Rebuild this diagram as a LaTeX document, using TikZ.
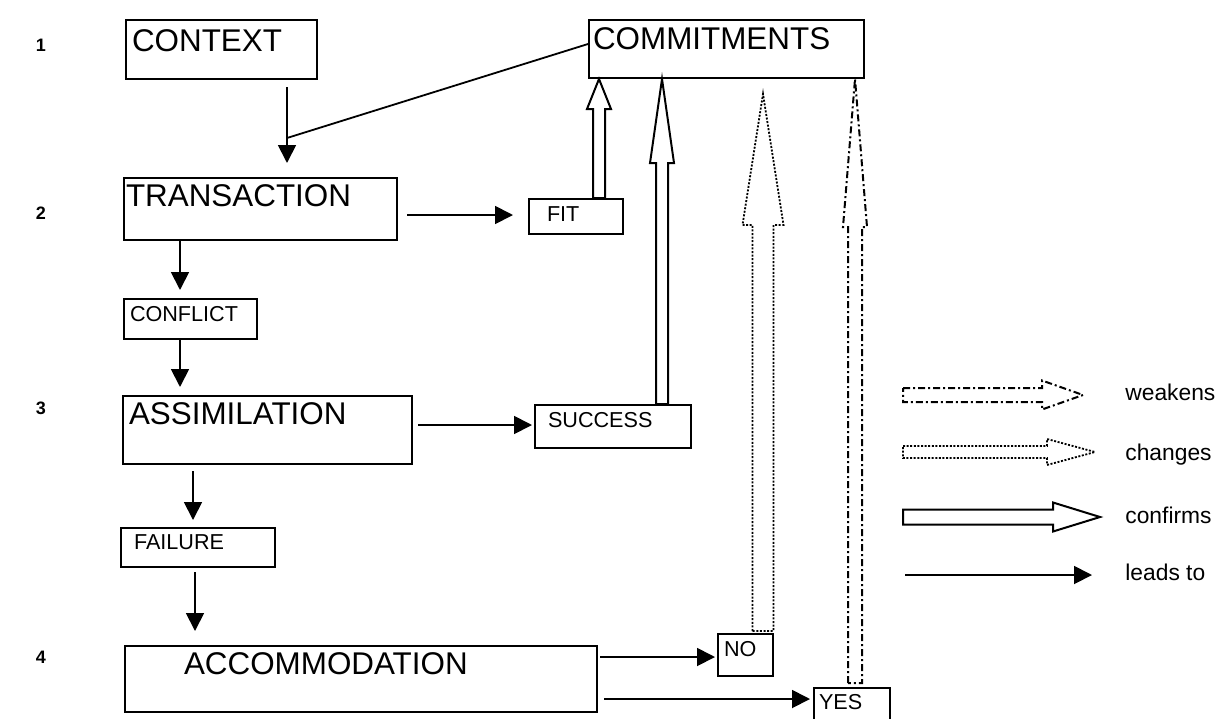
\documentclass[tikz,border=0pt]{standalone}
\usepackage{fontspec}
\setmainfont{Liberation Sans}
\usetikzlibrary{arrows.meta, calc}
\tikzstyle{bigbox}=[rectangle, draw, line width=1pt, anchor=north west, inner ysep=0pt, align=left, font=\fontsize{15.7}{18}\selectfont]
\tikzstyle{smallbox}=[rectangle, draw, line width=1pt, anchor=north west, inner ysep=0pt, align=left, font=\fontsize{10.8}{13}\selectfont]
\tikzstyle{arrow}=[draw, line width=0.9pt, -{Triangle[length=9pt,width=9pt]}]
\tikzstyle{confirms}=[draw, line width=1pt]
\tikzstyle{changes}=[draw, line width=0.9pt, dash pattern=on 1pt off 0.8pt]
\tikzstyle{weakens}=[draw, line width=1pt, dash pattern=on 3.5pt off 1.5pt on 1pt off 1.5pt]
\tikzstyle{rownum}=[font=\bfseries\fontsize{9}{11}\selectfont]
\tikzstyle{legtext}=[anchor=base west, inner sep=0pt, font=\fontsize{11.4}{13}\selectfont]

% hollow arrow: style, foot, tip, shaft half width, head half width, head length
\newcommand{\hollowup}[6]{%
  \draw[#1] ($(#2)+(-#4,0)$) -- ($(#3)+(-#4,#6)$) -- ($(#3)+(-#5,#6)$) -- (#3)
    -- ($(#3)+(#5,#6)$) -- ($(#3)+(#4,#6)$) -- ($(#2)+(#4,0)$) -- cycle;}
\newcommand{\hollowright}[6]{%
  \draw[#1] ($(#2)+(0,-#4)$) -- ($(#3)+(-#6,-#4)$) -- ($(#3)+(-#6,-#5)$) -- (#3)
    -- ($(#3)+(-#6,#5)$) -- ($(#3)+(-#6,#4)$) -- ($(#2)+(0,#4)$) -- cycle;}

\begin{document}
\begin{tikzpicture}[x=0.5pt, y=-0.5pt]
		\useasboundingbox (0,0) rectangle (1219,718);

		% levels
		\node (n1) [rownum] at (41,45) {1};
		\node (n2) [rownum] at (41,213) {2};
		\node (n3) [rownum] at (41,408) {3};
		\node (n4) [rownum] at (41,657) {4};

		\node (ctx) [bigbox, inner xsep=3pt, text width=89.5pt, text height=15.5pt, text depth=14pt] at (125,19) {CONTEXT};
		\node (com) [bigbox, inner xsep=2pt, text width=133.5pt, text height=14.5pt, text depth=14.5pt] at (588,19) {COMMITMENTS};
		\node (trans) [bigbox, inner xsep=1pt, text width=134.5pt, text height=14pt, text depth=17pt] at (123,177) {TRANSACTION};
		\node (fit) [smallbox, inner xsep=9pt, text width=29pt, text height=11pt, text depth=6.5pt] at (528,198) {FIT};
		\node (conf) [smallbox, inner xsep=3pt, text width=60.5pt, text height=11pt, text depth=9pt] at (123,298) {CONFLICT};
		\node (assim) [bigbox, inner xsep=3pt, text width=138.5pt, text height=14pt, text depth=20pt] at (122,395) {ASSIMILATION};
		\node (succ) [smallbox, inner xsep=6.5pt, text width=65pt, text height=11pt, text depth=10.5pt] at (534,404) {SUCCESS};
		\node (fail) [smallbox, inner xsep=6.5pt, text width=64pt, text height=10.5pt, text depth=9pt] at (120,527) {FAILURE};
		\node (acc) [bigbox, inner xsep=29.5pt, text width=177pt, text height=14pt, text depth=19pt] at (124,645) {ACCOMMODATION};
		\node (no) [smallbox, inner xsep=3pt, text width=21.5pt, text height=11pt, text depth=10pt] at (717,633) {NO};
		\node (yes) [smallbox, inner xsep=2.5pt, text width=33pt, text height=10.5pt, text depth=11pt] at (813,687) {YES};

		% rows and columns of the connectors
		\coordinate (c1) at (287,0);
		\coordinate (c2) at (180,0);
		\coordinate (c3) at (193,0);
		\coordinate (c4) at (195,0);
		\coordinate (r1) at (0,215);
		\coordinate (r2) at (0,425);
		\coordinate (r3) at (0,657);
		\coordinate (r4) at (0,699);
		\coordinate (join) at (287,138);

		\draw[arrow, shorten <=3.5pt, shorten >=7pt] (ctx.south -| c1) -- (trans.north -| c1);
		\draw[line width=0.9pt] ($(com.west)+(0,-5)$) -- (join);
		\draw[arrow, shorten <=4.5pt, shorten >=7.5pt] (trans.east |- r1) -- (fit.west |- r1);
		\draw[arrow, shorten >=4pt] (trans.south -| c2) -- (conf.north -| c2);
		\draw[arrow, shorten >=4pt] (conf.south -| c2) -- (assim.north -| c2);
		\draw[arrow, shorten <=2.5pt, shorten >=1pt] (assim.east |- r2) -- (succ.west |- r2);
		\draw[arrow, shorten <=3pt, shorten >=3.5pt] (assim.south -| c3) -- (fail.north -| c3);
		\draw[arrow, shorten <=2pt, shorten >=7pt] (fail.south -| c4) -- (acc.north -| c4);
		\draw[arrow, shorten <=1pt, shorten >=1pt] (acc.east |- r3) -- (no.west |- r3);
		\draw[arrow, shorten <=3pt, shorten >=1.5pt] (acc.east |- r4) -- (yes.west |- r4);

		% hollow arrows up to the commitments
		\coordinate (up1) at (599,0);
		\coordinate (up2) at (662,0);
		\coordinate (up3) at (763,0);
		\coordinate (up4) at (855,0);
		\coordinate (up3tip) at ($(up3 |- com.south)+(0,15)$);
		\coordinate (up3foot) at ($(up3 |- no.north)+(0,-2)$);
		\coordinate (up4foot) at ($(up4 |- yes.north)+(0,-4)$);
		\hollowup{confirms}{up1 |- fit.north}{up1 |- com.south}{6}{12}{30}
		\hollowup{confirms}{up2 |- succ.north}{up2 |- com.south}{6}{12}{84}
		\hollowup{changes}{up3foot}{up3tip}{10.5}{20.5}{131}
		\hollowup{weakens}{up4foot}{up4 |- com.south}{7}{12}{148}

		% legend
		\coordinate (lw0) at (903,395);
		\coordinate (lw1) at (1083,395);
		\coordinate (lc0) at (903,452);
		\coordinate (lc1) at (1095,452);
		\coordinate (lf0) at (903,517);
		\coordinate (lf1) at (1100,517);
		\coordinate (ll0) at (905,575);
		\coordinate (ll1) at (1092,575);
		\hollowright{weakens}{lw0}{lw1}{7}{14.5}{41}
		\hollowright{changes}{lc0}{lc1}{6}{13}{48}
		\hollowright{confirms}{lf0}{lf1}{7.5}{14.5}{47}
		\draw[arrow] (ll0) -- (ll1);
		\node (lgw) [legtext] at (1125,400) {weakens};
		\node (lgc) [legtext] at (1125,460) {changes};
		\node (lgf) [legtext] at (1125,523) {confirms};
		\node (lgl) [legtext] at (1125,580) {leads to};

\end{tikzpicture}
\end{document}
